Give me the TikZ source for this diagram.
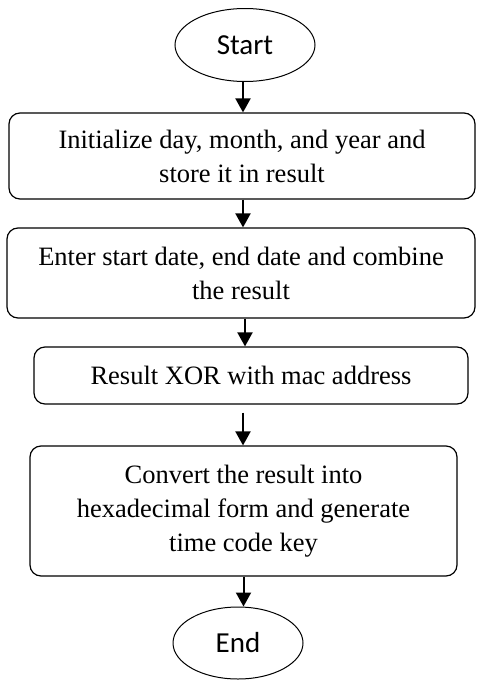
\documentclass[tikz,border=0pt]{standalone}
\usepackage{fontspec}
\setmainfont{Liberation Serif}
\newfontfamily\termfont{Carlito}
\usetikzlibrary{shapes.geometric, arrows.meta}

\begin{document}
\begin{tikzpicture}[x=1pt, y=-1pt,
    terminal/.style={draw, ellipse, line width=1pt, minimum width=140pt, minimum height=73pt,
      inner sep=0pt, font=\termfont\fontsize{29}{34}\selectfont},
    process/.style={draw, rectangle, rounded corners=11pt, line width=1.2pt, inner sep=0pt,
      align=center, font=\fontsize{26.5}{34}\selectfont},
    flow/.style={line width=2pt, -{Triangle[length=14pt, width=15pt]}}]
  \useasboundingbox (0,0) rectangle (477,680);

  \node[terminal] (start) at (245,45) {Start};
  \node[process, minimum width=466pt, minimum height=86pt] (init) at (242,156)
    {Initialize day, month, and year and\\store it in result};
  \node[process, minimum width=468pt, minimum height=90pt] (enter) at (241,273)
    {Enter start date, end date and combine\\the result};
  \node[process, minimum width=434pt, minimum height=57pt] (xor) at (251,375.5)
    {Result XOR with mac address};
  \node[process, minimum width=427pt, minimum height=130pt] (conv) at (243.5,511)
    {Convert the result into\\hexadecimal form and generate\\time code key};
  \node[terminal, minimum width=130pt, minimum height=72pt] (end) at (238,643) {End};

  \draw[flow] ([xshift=-2pt]start.south) -- ([xshift=-2pt]start.south |- init.north);
  \draw[flow] ([xshift=1pt]init.south) -- ([xshift=1pt]init.south |- enter.north);
  \draw[flow] ([xshift=4pt]enter.south) -- ([xshift=4pt]enter.south |- xor.north);
  \draw[flow] ([xshift=-8pt, yshift=-8pt]xor.south) -- ([xshift=-8pt]xor.south |- conv.north);
  \draw[flow] (conv.south) -- (conv.south |- end.north);
\end{tikzpicture}
\end{document}
